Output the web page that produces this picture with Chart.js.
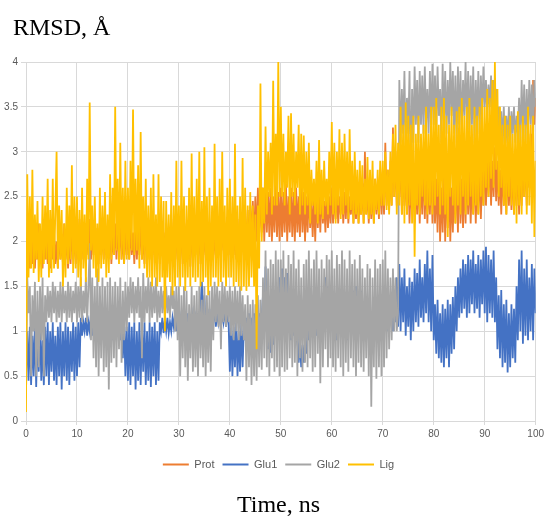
<!DOCTYPE html>
<html>
<head>
<meta charset="utf-8">
<script src="https://cdn.jsdelivr.net/npm/chart.js@4/dist/chart.umd.min.js"></script>
<style>
  body { margin: 0; background: #fff; }
  #wrap { position: relative; width: 547px; height: 518px; }
  .lbl { position: absolute; font-family: "Liberation Serif", "DejaVu Serif", serif; font-size: 24px; line-height: 24px; color: #000; white-space: nowrap; }
</style>
</head>
<body>
<div id="wrap">
  <canvas id="chartCanvas" width="547" height="518"></canvas>
  <div class="lbl" style="left:13px; top:15px;">RMSD, Å</div>
  <div class="lbl" style="left:0; width:547px; text-align:center; top:492px; padding-left:10px; box-sizing:border-box;">Time, ns</div>
</div>
<script>
// one sample every 0.25 ns, 0..100 ns
const STEP = 0.25;
const xTicks = [0, 10, 20, 30, 40, 50, 60, 70, 80, 90, 100];
const yTicks = [0, 0.5, 1, 1.5, 2, 2.5, 3, 3.5, 4];

const prot = [
  1.2, 1.65, 2.1, 1.7, 2.0, 1.75, 2.15, 1.7, 2.05, 1.8, 2.2, 1.75, 2.0, 1.7, 2.1, 1.8, 2.15, 1.75, 2.05, 1.7, 2.2, 1.8, 2.1, 1.75, 2.0, 1.7, 2.15, 1.8, 2.05, 1.75, 2.2, 1.8, 2.1, 1.7, 2.05, 1.75, 2.2, 1.8, 2.1, 1.75,
  2.2, 1.8, 2.25, 1.85, 2.1, 1.8, 2.2, 1.75, 2.15, 1.85, 2.25, 1.8, 2.1, 1.85, 2.2, 1.8, 2.15, 1.75, 2.25, 1.85, 2.1, 1.8, 2.2, 1.85, 2.15, 1.8, 2.25, 1.75, 2.1, 1.85, 2.2, 1.8, 2.15, 1.85, 2.25, 1.8, 2.1, 1.75, 2.2, 1.85,
  2.15, 1.8, 2.2, 1.85, 2.1, 1.75, 2.2, 1.8, 2.15, 1.85, 2.25, 1.8, 2.1, 1.75, 2.2, 1.85, 2.15, 1.8, 2.2, 1.75, 2.1, 1.85, 2.25, 1.8, 2.15, 1.75, 2.2, 1.85, 2.1, 1.8, 2.2, 1.75, 2.15, 1.85, 2.25, 1.8, 2.1, 1.75, 2.2, 1.8,
  2.15, 1.8, 2.2, 1.75, 2.1, 1.85, 2.2, 1.8, 2.15, 1.72, 2.2, 1.8, 2.1, 1.85, 2.25, 1.8, 2.15, 1.75, 2.2, 1.8, 2.1, 1.85, 2.2, 1.8, 2.15, 1.78, 2.25, 1.85, 2.1, 1.8, 2.2, 1.85, 2.15, 1.8, 2.2, 1.9, 2.1, 1.8, 2.2, 1.85,
  2.15, 1.8, 2.2, 1.85, 2.1, 1.8, 2.25, 1.9, 2.2, 1.85, 2.3, 1.9, 2.25, 1.95, 2.35, 1.9, 2.4, 2.0, 2.45, 1.95, 2.5, 2.0, 2.6, 2.05, 2.55, 2.1, 2.6, 2.0, 2.65, 2.1, 2.55, 2.05, 2.6, 2.0, 2.5, 2.1, 2.65, 2.05, 2.55, 2.0,
  2.6, 2.05, 2.55, 2.1, 2.65, 2.0, 2.5, 2.1, 2.6, 2.05, 2.55, 2.0, 2.6, 2.1, 2.5, 2.05, 2.65, 2.1, 2.55, 2.0, 2.5, 2.1, 2.6, 2.15, 2.45, 2.05, 2.5, 2.0, 2.55, 2.15, 2.5, 2.1, 2.6, 2.2, 2.45, 2.1, 2.55, 2.15, 2.5, 2.2,
  2.6, 2.2, 2.55, 2.25, 2.6, 2.2, 2.5, 2.3, 2.6, 2.2, 2.55, 2.25, 2.6, 2.2, 2.5, 2.3, 2.6, 2.2, 2.55, 2.25, 2.6, 2.2, 2.5, 2.3, 2.65, 2.2, 3.0, 2.3, 2.6, 2.2, 2.55, 2.25, 2.6, 2.2, 2.7, 2.3, 2.6, 2.25, 2.8, 2.3,
  2.7, 2.3, 3.1, 2.4, 2.8, 2.35, 2.9, 2.4, 3.27, 2.5, 3.0, 2.4, 2.9, 2.5, 3.0, 2.3, 2.9, 2.4, 2.8, 2.3, 2.9, 2.2, 2.7, 2.3, 2.8, 2.2, 2.65, 2.3, 2.8, 2.2, 2.7, 2.3, 2.9, 2.25, 2.8, 2.2, 2.7, 2.3, 2.9, 2.2,
  2.8, 2.2, 2.7, 2.1, 2.9, 2.0, 2.6, 2.1, 2.8, 2.0, 2.7, 2.15, 2.8, 2.0, 2.6, 2.1, 2.7, 2.2, 2.8, 2.1, 2.9, 2.2, 2.7, 2.15, 2.8, 2.2, 2.9, 2.3, 2.8, 2.2, 2.7, 2.3, 2.9, 2.2, 2.8, 2.3, 2.9, 2.25, 2.8, 2.4,
  3.0, 2.4, 2.9, 2.5, 3.0, 2.4, 2.9, 2.5, 3.05, 2.45, 2.9, 2.4, 2.8, 2.3, 2.9, 2.4, 2.8, 2.3, 2.9, 2.4, 2.8, 2.35, 2.9, 2.3, 2.8, 2.4, 2.9, 2.3, 2.85, 2.4, 2.9, 2.5, 3.0, 2.4, 2.9, 2.6, 3.2, 2.7, 3.8, 3.3,
  3.6
];

const glu1 = [
  0.5, 1.0, 0.45, 1.05, 0.4, 0.95, 0.5, 1.1, 0.38, 1.0, 0.55, 1.1, 0.45, 0.9, 0.4, 1.05, 0.5, 1.1, 0.4, 1.0, 0.55, 1.1, 0.45, 0.95, 0.4, 1.05, 0.5, 1.1, 0.35, 1.0, 0.5, 1.1, 0.45, 1.05, 0.4, 1.0, 0.55, 1.1, 0.45, 1.05,
  0.5, 1.1, 0.6, 1.15, 0.95, 1.1, 1.0, 1.15, 0.95, 1.1, 1.0, 1.2, 0.95, 1.1, 1.0, 1.15, 0.9, 1.1, 1.0, 1.15, 0.95, 1.1, 1.0, 1.2, 0.95, 1.1, 1.0, 1.15, 0.9, 1.1, 1.0, 1.15, 0.95, 1.1, 0.9, 1.15, 0.7, 1.1, 0.5, 1.05,
  0.45, 1.1, 0.4, 1.05, 0.5, 1.1, 0.35, 1.0, 0.45, 1.1, 0.4, 1.05, 0.55, 1.1, 0.4, 1.0, 0.45, 1.1, 0.38, 1.05, 0.5, 1.1, 0.4, 1.0, 0.45, 1.1, 1.0, 1.15, 0.98, 1.12, 1.0, 1.15, 0.98, 1.1, 1.0, 1.15, 1.05, 1.2, 1.0, 1.15,
  1.0, 1.15, 1.05, 1.2, 1.0, 1.15, 1.05, 1.2, 1.0, 1.15, 1.1, 1.2, 1.0, 1.15, 1.05, 1.2, 1.0, 1.3, 1.55, 1.1, 1.4, 1.05, 1.2, 1.1, 1.25, 1.05, 1.2, 1.1, 1.25, 1.05, 1.2, 1.1, 1.25, 1.05, 1.2, 1.1, 1.25, 1.05, 1.2, 1.1,
  0.55, 1.1, 0.5, 1.05, 0.6, 1.1, 0.5, 1.0, 0.55, 1.1, 0.6, 1.05, 0.9, 1.15, 0.95, 1.2, 0.9, 1.15, 1.0, 1.2, 0.95, 1.15, 0.9, 1.2, 1.0, 1.15, 1.4, 1.0, 1.72, 1.1, 0.8, 1.16, 0.76, 1.1, 0.85, 1.2, 1.0, 1.4, 1.1, 1.6,
  1.2, 1.7, 1.1, 1.6, 1.2, 1.65, 1.1, 1.2, 0.9, 1.15, 0.95, 1.1, 0.9, 1.0, 0.65, 0.9, 0.6, 0.85, 0.65, 0.9, 0.75, 1.0, 0.9, 1.15, 0.95, 1.2, 1.0, 1.15, 0.95, 1.2, 1.0, 1.2, 1.1, 1.3, 1.2, 1.6, 1.2, 1.5, 1.25, 1.4,
  1.0, 1.2, 0.95, 1.3, 0.9, 1.2, 1.0, 1.25, 0.95, 1.2, 1.0, 1.3, 0.9, 1.2, 1.1, 1.5, 1.1, 1.45, 1.2, 1.5, 1.1, 1.4, 1.2, 1.45, 1.0, 1.2, 0.9, 1.1, 1.0, 1.2, 0.9, 1.15, 1.0, 1.2, 0.95, 1.1, 1.0, 1.2, 1.05, 1.15,
  1.0, 1.2, 1.05, 1.3, 1.0, 1.25, 1.1, 1.3, 1.0, 1.35, 1.1, 1.6, 1.05, 1.75, 1.0, 1.6, 1.1, 1.7, 0.95, 1.5, 1.05, 1.6, 0.9, 1.55, 1.0, 1.7, 1.1, 1.65, 1.05, 1.8, 1.15, 1.6, 1.1, 1.75, 1.2, 1.9, 1.1, 1.7, 1.0, 1.85,
  0.9, 1.3, 0.75, 1.35, 0.7, 1.2, 0.65, 1.3, 0.6, 1.25, 0.7, 1.35, 0.6, 1.3, 0.75, 1.38, 0.8, 1.5, 1.0, 1.6, 1.15, 1.7, 1.2, 1.8, 1.25, 1.75, 1.15, 1.85, 1.2, 1.8, 1.3, 1.9, 1.2, 1.75, 1.25, 1.85, 1.15, 1.8, 1.3, 1.9,
  1.2, 1.94, 1.1, 1.85, 1.2, 1.8, 1.15, 1.9, 1.1, 1.6, 0.8, 1.4, 0.7, 1.46, 0.6, 1.3, 0.65, 1.35, 0.54, 1.2, 0.6, 1.3, 0.7, 1.25, 0.65, 1.5, 0.9, 1.8, 1.0, 1.9, 0.86, 1.7, 0.95, 1.8, 0.9, 1.6, 1.0, 1.75, 0.9, 1.7,
  1.2
];

const glu2 = [
  0.25, 1.6, 1.2, 1.5, 0.5, 1.4, 1.0, 1.55, 0.5, 1.45, 0.6, 1.5, 0.9, 1.6, 0.5, 1.4, 1.1, 1.5, 1.15, 1.45, 1.1, 1.55, 1.2, 1.5, 1.1, 1.45, 1.15, 1.55, 1.1, 1.5, 1.2, 1.45, 1.1, 1.55, 1.15, 1.5, 1.1, 1.45, 1.2, 1.55,
  1.1, 1.5, 1.15, 1.6, 1.1, 1.45, 1.2, 1.6, 1.1, 1.5, 1.98, 0.9, 1.6, 0.7, 1.5, 0.6, 1.7, 0.5, 1.5, 0.7, 1.6, 0.55, 1.5, 0.6, 1.55, 0.35, 1.6, 0.65, 1.5, 0.7, 1.55, 0.6, 1.5, 0.8, 1.6, 0.65, 1.45, 0.9, 1.55, 1.0,
  1.5, 1.15, 1.6, 1.2, 1.55, 1.1, 1.5, 1.2, 1.6, 1.15, 1.5, 0.7, 1.65, 1.1, 1.5, 1.2, 1.6, 1.1, 1.55, 1.15, 1.5, 1.2, 1.6, 1.1, 1.45, 1.15, 1.5, 1.2, 1.45, 1.15, 1.5, 1.2, 1.4, 1.15, 1.5, 1.25, 1.45, 1.0, 1.5, 0.9,
  1.5, 0.5, 1.4, 0.7, 1.5, 0.6, 1.45, 0.45, 1.3, 0.7, 1.5, 0.55, 1.4, 0.6, 1.45, 0.5, 1.5, 0.7, 1.35, 0.6, 1.5, 0.5, 1.4, 0.65, 1.45, 0.55, 1.5, 0.9, 1.55, 1.1, 1.5, 1.05, 1.45, 0.8, 1.55, 1.1, 1.5, 1.05, 1.45, 1.1,
  1.5, 0.95, 1.45, 0.9, 1.5, 1.0, 1.45, 0.9, 1.5, 0.95, 1.4, 0.9, 1.3, 0.45, 1.4, 0.6, 1.3, 0.4, 1.35, 0.5, 1.3, 0.45, 1.4, 0.6, 1.35, 0.57, 1.6, 0.7, 1.9, 0.6, 1.7, 0.5, 1.8, 0.7, 1.75, 0.55, 1.9, 0.6, 1.8, 0.5,
  1.8, 0.6, 1.9, 0.55, 1.7, 0.57, 1.85, 0.7, 1.75, 0.6, 1.9, 0.65, 1.7, 0.5, 1.8, 0.7, 1.6, 0.55, 1.75, 0.65, 1.8, 0.6, 1.9, 0.7, 1.7, 0.55, 1.8, 0.6, 1.9, 0.75, 1.7, 0.42, 1.8, 0.6, 1.7, 0.8, 1.85, 0.6, 1.8, 0.7,
  1.9, 0.6, 1.7, 0.55, 1.85, 0.7, 1.75, 0.6, 1.9, 0.5, 1.8, 0.65, 1.7, 0.55, 1.9, 0.7, 1.75, 0.6, 1.8, 0.5, 1.7, 0.65, 1.85, 0.6, 1.7, 0.55, 1.6, 0.7, 1.75, 0.5, 1.7, 0.16, 1.6, 0.6, 1.8, 0.47, 1.7, 0.6, 1.75, 0.5,
  1.8, 0.6, 1.9, 0.7, 1.7, 0.8, 1.6, 0.9, 1.7, 1.0, 1.6, 1.0, 1.2, 3.8, 3.1, 3.7, 3.2, 3.9, 3.0, 3.6, 3.2, 3.9, 2.6, 3.7, 3.1, 3.95, 3.3, 3.8, 3.1, 3.9, 3.3, 3.85, 3.2, 3.95, 3.3, 3.7, 3.2, 3.9, 3.3, 3.98,
  3.3, 3.85, 3.2, 3.95, 3.4, 3.7, 3.1, 3.98, 3.3, 3.9, 3.2, 3.8, 3.3, 4.0, 3.4, 3.9, 3.2, 3.85, 3.1, 3.95, 3.3, 3.9, 3.2, 3.8, 3.4, 4.0, 3.3, 3.9, 3.2, 3.85, 3.3, 3.95, 3.1, 3.8, 3.3, 3.9, 3.2, 3.85, 3.4, 3.95,
  3.5, 3.8, 3.4, 3.75, 3.5, 3.85, 3.4, 3.8, 3.5, 3.7, 3.2, 3.5, 3.0, 3.45, 3.1, 3.5, 3.0, 3.4, 3.1, 3.5, 3.0, 3.45, 3.2, 3.5, 3.1, 3.4, 3.2, 3.6, 3.1, 3.8, 3.2, 3.75, 3.1, 3.7, 3.2, 3.8, 3.3, 3.75, 3.2, 3.8,
  3.5
];

const lig = [
  0.1, 2.75, 1.6, 2.5, 1.7, 2.8, 1.65, 2.3, 1.8, 2.45, 1.55, 2.2, 1.6, 2.5, 1.75, 2.4, 1.8, 2.7, 1.6, 2.35, 1.65, 2.7, 1.7, 2.3, 3.0, 1.7, 2.4, 1.8, 2.35, 1.5, 2.2, 1.6, 2.6, 1.75, 2.4, 1.8, 2.85, 1.65, 2.5, 1.7,
  2.5, 1.6, 2.35, 1.5, 2.6, 1.7, 2.3, 1.55, 2.7, 1.8, 3.55, 1.9, 2.4, 1.7, 2.5, 1.6, 2.2, 1.55, 2.6, 1.7, 2.4, 1.75, 2.55, 1.6, 2.3, 1.65, 2.75, 1.8, 2.6, 1.85, 3.5, 1.9, 2.7, 1.75, 3.1, 1.8, 2.6, 1.75, 2.9, 1.8,
  2.6, 1.8, 2.9, 1.9, 3.47, 1.85, 2.7, 1.9, 2.85, 1.7, 3.22, 1.8, 2.5, 1.7, 2.7, 1.6, 2.4, 1.6, 2.6, 1.5, 2.75, 1.6, 2.3, 1.5, 2.75, 1.55, 2.5, 1.6, 2.45, 1.0, 2.45, 1.6, 2.3, 1.55, 2.55, 1.4, 2.4, 1.5, 2.9, 1.6,
  2.4, 1.5, 2.9, 1.6, 2.5, 1.45, 2.4, 1.6, 2.6, 1.5, 2.98, 1.6, 2.5, 1.55, 2.7, 1.6, 3.0, 1.5, 2.45, 1.55, 3.05, 1.6, 2.5, 1.4, 2.6, 1.5, 2.4, 1.6, 3.09, 1.6, 2.5, 1.5, 2.7, 1.55, 3.0, 1.6, 2.4, 1.5, 2.6, 1.6,
  2.7, 1.6, 2.5, 1.5, 3.09, 1.55, 2.4, 1.5, 2.5, 1.45, 2.93, 1.5, 2.6, 1.45, 2.4, 1.5, 2.55, 1.6, 2.4, 1.5, 2.3, 0.8, 2.4, 1.7, 3.76, 2.0, 2.6, 2.2, 3.28, 2.3, 3.0, 2.5, 3.1, 2.3, 3.79, 2.4, 3.2, 2.4, 4.0, 2.5,
  3.5, 2.5, 3.2, 2.4, 3.0, 2.6, 3.4, 2.3, 3.43, 2.5, 3.2, 2.4, 3.0, 2.6, 3.3, 2.3, 3.2, 2.4, 3.18, 2.3, 3.0, 2.4, 3.1, 2.2, 2.8, 2.4, 2.7, 2.3, 2.9, 2.2, 3.13, 2.3, 2.8, 2.25, 2.9, 2.4, 2.7, 2.3, 3.0, 2.4,
  3.33, 2.3, 3.1, 2.2, 3.0, 2.4, 3.25, 2.25, 3.1, 2.3, 3.2, 2.4, 3.0, 2.25, 3.25, 2.35, 2.9, 2.2, 3.0, 2.3, 2.8, 2.2, 2.9, 2.3, 2.85, 2.2, 2.7, 2.3, 2.94, 2.25, 2.8, 2.3, 2.9, 2.2, 2.7, 2.35, 2.8, 2.3, 2.9, 2.4,
  2.9, 2.4, 3.0, 2.35, 2.8, 2.3, 3.0, 2.4, 3.2, 2.5, 3.3, 2.3, 3.1, 2.4, 3.5, 2.3, 3.3, 2.2, 3.55, 2.3, 3.4, 2.4, 3.3, 2.2, 3.4, 1.83, 3.2, 2.4, 3.4, 2.3, 3.2, 2.5, 3.3, 2.4, 3.5, 2.3, 3.2, 2.4, 3.5, 2.3,
  3.5, 2.4, 3.6, 2.5, 3.3, 2.3, 3.5, 2.4, 3.6, 2.3, 3.4, 2.05, 3.3, 2.5, 3.5, 2.4, 3.3, 2.2, 3.45, 2.4, 3.5, 2.3, 3.6, 2.5, 3.4, 2.3, 3.5, 2.4, 3.6, 2.5, 3.3, 2.3, 3.5, 2.4, 3.4, 2.3, 3.5, 2.5, 3.6, 2.4,
  3.5, 2.6, 3.7, 2.5, 3.6, 2.7, 3.8, 2.6, 4.0, 2.8, 3.7, 2.5, 3.5, 2.6, 3.3, 2.4, 3.4, 2.3, 3.3, 2.5, 3.4, 2.4, 3.2, 2.3, 3.3, 2.2, 3.45, 2.4, 3.3, 2.3, 3.4, 2.5, 3.3, 2.3, 3.5, 2.4, 3.3, 2.2, 3.4, 2.05,
  2.9
];

function toPoints(vals) {
  return vals.map(function(v, i) { return { x: i * STEP, y: v }; });
}

function series(label, vals, color, order) {
  return {
    label: label,
    data: toPoints(vals),
    borderColor: color,
    backgroundColor: color,
    borderWidth: 1.8,
    pointRadius: 0,
    tension: 0,
    order: order
  };
}

// the original legend is centred on the plot area, not on the whole canvas
const legendShift = {
  id: 'legendShift',
  afterLayout: function(chart) {
    if (chart.legend) { chart.legend.left += 18; }
  }
};

const tickFont = { size: 10, family: '"Liberation Sans", sans-serif' };

const ctx = document.getElementById('chartCanvas').getContext('2d');
new Chart(ctx, {
  type: 'line',
  data: {
    datasets: [
      series('Prot', prot, '#ED7D31', 4),
      series('Glu1', glu1, '#4472C4', 3),
      series('Glu2', glu2, '#A5A5A5', 2),
      series('Lig', lig, '#FFC000', 1)
    ]
  },
  plugins: [legendShift],
  options: {
    responsive: false,
    animation: false,
    layout: { padding: { top: 62, right: 8, bottom: 38, left: 0 } },
    plugins: {
      tooltip: { enabled: false },
      legend: {
        position: 'bottom',
        labels: {
          font: { family: '"Liberation Sans", sans-serif', size: 11 },
          color: '#595959',
          boxWidth: 26,
          boxHeight: 2,
          padding: 8,
          sort: function(a, b) { return a.datasetIndex - b.datasetIndex; },
          generateLabels: function(chart) {
            return chart.data.datasets.map(function(ds, i) {
              return {
                text: ds.label,
                fillStyle: ds.borderColor,
                strokeStyle: ds.borderColor,
                lineWidth: 0,
                fontColor: '#595959',
                datasetIndex: i
              };
            });
          }
        }
      }
    },
    scales: {
      x: {
        type: 'linear',
        min: 0,
        max: 100,
        afterBuildTicks: function(axis) { axis.ticks = xTicks.map(function(v) { return { value: v }; }); },
        afterFit: function(axis) { axis.height = 30; },
        grid: { color: '#D9D9D9', tickLength: 4 },
        border: { color: '#D9D9D9' },
        ticks: { color: '#595959', font: tickFont, maxRotation: 0, padding: 3, callback: function(v) { return String(v); } }
      },
      y: {
        min: 0,
        max: 4,
        afterBuildTicks: function(axis) { axis.ticks = yTicks.map(function(v) { return { value: v }; }); },
        afterFit: function(axis) { axis.width = 26; },
        grid: { color: '#D9D9D9', tickLength: 5 },
        border: { color: '#D9D9D9' },
        ticks: { color: '#595959', font: tickFont, padding: 3, callback: function(v) { return String(v); } }
      }
    }
  }
});
</script>
</body>
</html>
